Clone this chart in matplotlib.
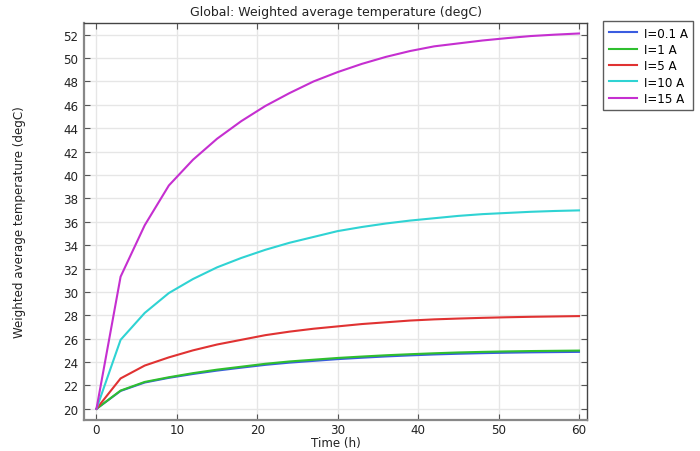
import matplotlib
matplotlib.use("Agg")
import matplotlib.pyplot as plt

# time points (h), one every 3 hours
time_h = [0, 3, 6, 9, 12, 15, 18, 21, 24, 27, 30, 33, 36, 39, 42, 45, 48, 51, 54, 57, 60]

# weighted average temperature (degC)
temp_01 = [20, 21.53, 22.25, 22.65, 22.98, 23.27, 23.52, 23.76, 23.95, 24.10, 24.25,
           24.37, 24.48, 24.57, 24.65, 24.71, 24.76, 24.80, 24.83, 24.85, 24.87]
temp_1 = [20, 21.56, 22.30, 22.70, 23.05, 23.35, 23.60, 23.85, 24.05, 24.20, 24.35,
          24.47, 24.58, 24.67, 24.75, 24.82, 24.87, 24.91, 24.94, 24.96, 24.98]
temp_5 = [20, 22.6, 23.7, 24.4, 25.0, 25.5, 25.9, 26.3, 26.6, 26.85, 27.05,
          27.25, 27.4, 27.55, 27.65, 27.72, 27.78, 27.83, 27.87, 27.90, 27.93]
temp_10 = [20, 25.9, 28.2, 29.9, 31.1, 32.1, 32.9, 33.6, 34.2, 34.7, 35.2,
           35.55, 35.85, 36.1, 36.3, 36.5, 36.65, 36.75, 36.85, 36.92, 36.97]
temp_15 = [20, 31.3, 35.7, 39.1, 41.3, 43.1, 44.6, 45.9, 47.0, 48.0, 48.8,
           49.5, 50.1, 50.6, 51.0, 51.25, 51.5, 51.7, 51.88, 52.0, 52.1]

labels = ["I=0.1 A", "I=1 A", "I=5 A", "I=10 A", "I=15 A"]
colors = ["#3a5ce0", "#2fbf2f", "#e03232", "#2fd3d3", "#c52fd0"]
series = [temp_01, temp_1, temp_5, temp_10, temp_15]

FS = 8.6

fig = plt.figure(figsize=(7.0, 4.52), dpi=100)
ax = fig.add_axes([0.12, 0.069, 0.7186, 0.878])

for vals, lab, col in zip(series, labels, colors):
    ax.plot(time_h, vals, color=col, lw=1.5, label=lab)

ax.set_xlim(-1.55, 61.0)
ax.set_ylim(19.06, 53.0)
ax.set_xticks(range(0, 61, 10))
ax.set_yticks(range(20, 53, 2))
ax.grid(True, color="#e6e6e6", lw=1)
ax.set_axisbelow(True)
ax.tick_params(direction="in", top=True, right=True, length=4, pad=4,
               labelsize=FS, color="#555555", labelcolor="#222222")
ax.tick_params(axis="x", pad=2)

for side in ["left", "bottom"]:
    ax.spines[side].set_color("#888888")
    ax.spines[side].set_linewidth(1.6)
for side in ["top", "right"]:
    ax.spines[side].set_color("#444444")
    ax.spines[side].set_linewidth(1.0)

ax.set_title("Global: Weighted average temperature (degC)", fontsize=9,
             color="#222222", pad=6)
ax.set_xlabel("Time (h)", fontsize=FS, color="#222222")
ax.set_ylabel("Weighted average temperature (degC)", fontsize=FS, color="#222222")
ax.xaxis.set_label_coords(0.5, -0.041)
ax.yaxis.set_label_coords(-0.115, 0.5)

leg = ax.legend(loc="upper left", bbox_to_anchor=(0.862, 0.951),
                bbox_transform=fig.transFigure, fontsize=FS, frameon=True,
                fancybox=False, edgecolor="#333333", handlelength=2.4,
                borderpad=0.45, labelspacing=0.28, handletextpad=0.55,
                borderaxespad=0)
leg.get_frame().set_linewidth(1.0)

fig.savefig("out.png", dpi=100)
